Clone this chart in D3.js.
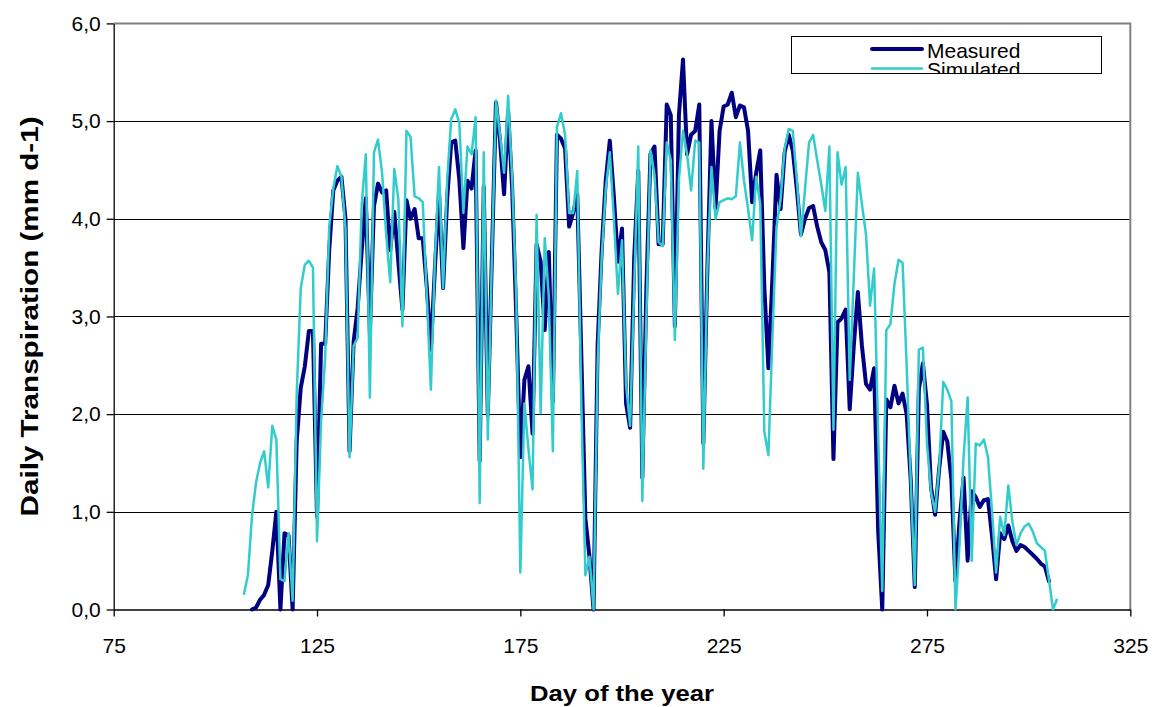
<!DOCTYPE html>
<html>
<head>
<meta charset="utf-8">
<script src="https://d3js.org/d3.v7.min.js"></script>
<style>
  body { margin: 0; background: #fff; }
  text { font-family: "Liberation Sans", Arial, sans-serif; fill: #000; }
</style>
</head>
<body>
<script>
// daily values (mm d-1)
var measuredStart = 109;
var measured = [
  0.0, 0.02, 0.1, 0.15, 0.25, 0.6, 1.0, 0.0, 0.78, 0.76,          // 109-118
  0.0, 1.72, 2.27, 2.49, 2.85, 2.85, 0.95, 2.72, 2.72, 3.68,      // 119-128
  4.29, 4.39, 4.43, 4.0, 1.62, 2.74, 3.09, 3.68, 4.21, 2.84,      // 129-138
  4.13, 4.36, 4.27, 4.29, 3.68, 4.07, 3.56, 3.07, 4.19, 4.0,      // 139-148
  4.1, 3.8, 3.8, 3.3, 2.66, 3.5, 4.27, 3.29, 4.2, 4.78,           // 149-158
  4.8, 4.4, 3.7, 4.39, 4.31, 4.7, 1.52, 4.33, 1.99, 3.6,          // 159-168
  5.19, 4.8, 4.25, 5.1, 4.3, 3.0, 1.56, 2.35, 2.49, 1.8,          // 169-178
  3.74, 3.56, 2.86, 3.66, 2.13, 4.86, 4.82, 4.72, 3.92, 4.06,     // 179-188
  4.25, 2.6, 0.93, 0.54, 0.0, 2.7, 3.68, 4.39, 4.8, 4.23,         // 189-198
  3.56, 3.9, 2.11, 1.86, 3.6, 4.49, 1.35, 3.3, 4.66, 4.74,        // 199-208
  3.74, 3.74, 5.17, 5.06, 2.9, 5.06, 5.63, 4.66, 4.86, 4.9,       // 209-218
  5.17, 1.7, 3.5, 5.0, 4.11, 4.9, 5.15, 5.17, 5.29, 5.04,         // 219-228
  5.16, 5.14, 4.9, 4.17, 4.47, 4.7, 3.3, 2.47, 3.4, 4.45,         // 229-238
  4.1, 4.68, 4.86, 4.7, 4.3, 3.84, 4.0, 4.11, 4.13, 3.92,         // 239-248
  3.76, 3.68, 3.45, 1.54, 2.94, 2.98, 3.07, 2.05, 2.7, 3.25,      // 249-258
  2.7, 2.31, 2.25, 2.47, 0.8, 0.0, 2.15, 2.07, 2.29, 2.11,        // 259-268
  2.21, 2.0, 1.33, 0.23, 2.25, 2.52, 2.1, 1.25, 0.97, 1.44,       // 269-278
  1.82, 1.72, 1.33, 0.29, 0.9, 1.35, 0.5, 1.21, 1.15, 1.05,       // 279-288
  1.12, 1.13, 0.75, 0.31, 0.78, 0.72, 0.86, 0.7, 0.6, 0.66,       // 289-298
  0.64, 0.6, 0.56, 0.52, 0.47, 0.44, 0.29                         // 299-305
];

var simulatedStart = 107;
var simulated = [
  0.15, 0.35, 0.95, 1.3, 1.5, 1.62, 1.25, 1.88, 1.74, 0.31,       // 107-116
  0.29, 0.78, 0.09, 2.2, 3.29, 3.53, 3.57, 3.5, 0.7, 1.92,        // 117-126
  2.58, 3.92, 4.31, 4.54, 4.43, 3.9, 1.56, 2.7, 2.78, 4.15,       // 127-136
  4.66, 2.17, 4.68, 4.81, 4.47, 3.84, 3.35, 4.51, 4.2, 2.9,       // 137-146
  4.9, 4.84, 4.23, 4.21, 4.17, 3.2, 2.25, 3.6, 4.53, 3.29,        // 147-156
  4.39, 5.02, 5.12, 4.98, 4.06, 4.74, 4.66, 5.04, 1.09, 4.68,     // 157-166
  1.74, 3.6, 5.21, 4.86, 4.47, 5.26, 4.4, 3.2, 0.38, 2.11,        // 167-176
  1.64, 1.23, 4.04, 2.01, 3.8, 3.2, 1.62, 4.94, 5.08, 4.86,       // 177-186
  4.06, 4.06, 4.49, 2.1, 0.35, 0.54, 0.0, 2.5, 3.6, 4.3,          // 187-196
  4.68, 4.0, 3.23, 3.78, 2.3, 1.88, 3.3, 4.74, 1.11, 3.0,         // 197-206
  4.7, 4.45, 3.76, 3.72, 4.78, 4.6, 2.76, 4.4, 4.9, 4.66,         // 207-216
  4.29, 4.8, 4.78, 1.44, 3.5, 4.53, 4.0, 4.17, 4.19, 4.21,        // 217-226
  4.2, 4.23, 4.78, 4.39, 4.1, 3.78, 4.43, 4.15, 1.82, 1.58,       // 227-236
  2.8, 3.92, 4.2, 4.72, 4.92, 4.9, 4.4, 3.82, 4.3, 4.78,          // 237-246
  4.86, 4.6, 4.35, 4.08, 4.74, 1.84, 4.68, 4.35, 4.53, 2.35,      // 247-256
  3.4, 4.47, 4.15, 3.84, 3.11, 3.49, 1.8, 0.19, 2.86, 2.92,       // 257-266
  3.33, 3.58, 3.55, 2.5, 1.33, 0.25, 2.66, 2.68, 1.7, 1.2,        // 267-276
  1.0, 1.45, 2.33, 2.25, 2.13, 0.0, 0.66, 1.56, 2.17, 0.5,        // 277-286
  1.7, 1.68, 1.74, 1.56, 1.0, 0.38, 0.95, 0.76, 1.27, 0.9,        // 287-296
  0.66, 0.78, 0.85, 0.88, 0.8, 0.68, 0.64, 0.6, 0.3, 0.0,         // 297-306
  0.11                                                            // 307
];

var xTicks = [75, 125, 175, 225, 275, 325];
var yTicks = [0, 1, 2, 3, 4, 5, 6];
var seriesNames = ["Measured", "Simulated"];
var seriesColors = ["#000080", "#33CCCC"];

var width = 1159, height = 707;
var plot = {left: 113.7, right: 1130.3, top: 23.4, bottom: 609.5};

var svg = d3.select("body").append("svg")
  .attr("width", width)
  .attr("height", height);

var x = d3.scaleLinear().domain([75, 325]).range([plot.left, plot.right]);
var y = d3.scaleLinear().domain([0, 6]).range([plot.bottom, plot.top]);

var comma = d3.formatLocale({decimal: ",", thousands: ".", grouping: [3], currency: ["", ""]}).format(".1f");

// gridlines
svg.append("g").selectAll("line")
  .data(yTicks.filter(function(d) { return d > 0 && d < 6; }))
  .enter().append("line")
  .attr("x1", plot.left).attr("x2", plot.right)
  .attr("y1", function(d) { return Math.round(y(d)) + 0.5; })
  .attr("y2", function(d) { return Math.round(y(d)) + 0.5; })
  .attr("stroke", "#000").attr("stroke-width", 1);

// plot border (top / right in grey)
svg.append("path")
  .attr("d", "M" + plot.left + "," + (Math.round(plot.top) + 0.5) + "H" + plot.right + "V" + plot.bottom)
  .attr("fill", "none").attr("stroke", "#808080").attr("stroke-width", 2);

// axes
var yAxis = d3.axisLeft(y).tickValues(yTicks).tickFormat(comma).tickSize(7).tickSizeOuter(0).tickPadding(6);
var xAxis = d3.axisBottom(x).tickValues(xTicks).tickSize(7).tickSizeOuter(0).tickPadding(22);

var gy = svg.append("g").attr("transform", "translate(" + plot.left + ",0)").call(yAxis);
var gx = svg.append("g").attr("transform", "translate(0," + plot.bottom + ")").call(xAxis);

[gx, gy].forEach(function(g) {
  g.select(".domain").attr("stroke", "#000").attr("stroke-width", 1.3);
  g.selectAll(".tick line").attr("stroke", "#000").attr("stroke-width", 1.3);
  g.selectAll(".tick text").attr("font-size", 21).attr("fill", "#000")
    .style("font-family", "'Liberation Sans', Arial, sans-serif");
});

// series
function lineFor(start) {
  return d3.line()
    .x(function(d, i) { return x(start + i); })
    .y(function(d) { return y(d); });
}

svg.append("path").datum(measured)
  .attr("d", lineFor(measuredStart))
  .attr("fill", "none").attr("stroke", seriesColors[0])
  .attr("stroke-width", 4).attr("stroke-linejoin", "round").attr("stroke-linecap", "round");

svg.append("path").datum(simulated)
  .attr("d", lineFor(simulatedStart))
  .attr("fill", "none").attr("stroke", seriesColors[1])
  .attr("stroke-width", 2.5).attr("stroke-linejoin", "round");

// axis titles
svg.append("text")
  .attr("x", (plot.left + plot.right) / 2).attr("y", 701)
  .attr("text-anchor", "middle").attr("font-size", 22).attr("font-weight", "bold")
  .attr("textLength", 184).attr("lengthAdjust", "spacingAndGlyphs")
  .text("Day of the year");

svg.append("text")
  .attr("transform", "translate(38," + ((plot.top + plot.bottom) / 2) + ") rotate(-90)")
  .attr("text-anchor", "middle").attr("font-size", 24).attr("font-weight", "bold")
  .attr("textLength", 400).attr("lengthAdjust", "spacingAndGlyphs")
  .text("Daily Transpiration (mm d-1)");

// legend (box clips the second entry, as in the original)
var lg = {x: 791, y: 36, w: 310, h: 37};
svg.append("clipPath").attr("id", "legclip")
  .append("rect").attr("x", lg.x).attr("y", lg.y).attr("width", lg.w).attr("height", lg.h);

svg.append("rect")
  .attr("x", lg.x + 0.5).attr("y", lg.y + 0.5).attr("width", lg.w).attr("height", lg.h)
  .attr("fill", "#fff").attr("stroke", "#000").attr("stroke-width", 1);

var legend = svg.append("g").attr("clip-path", "url(#legclip)");
var rowY = [49, 68.5];
var rowW = [4, 2.5];
seriesNames.forEach(function(name, i) {
  legend.append("line")
    .attr("x1", 872).attr("x2", 922).attr("y1", rowY[i]).attr("y2", rowY[i])
    .attr("stroke", seriesColors[i]).attr("stroke-width", rowW[i]).attr("stroke-linecap", "round");
  legend.append("text")
    .attr("x", 927).attr("y", rowY[i] + 8.5)
    .attr("font-size", 21)
    .text(name);
});
</script>
</body>
</html>
